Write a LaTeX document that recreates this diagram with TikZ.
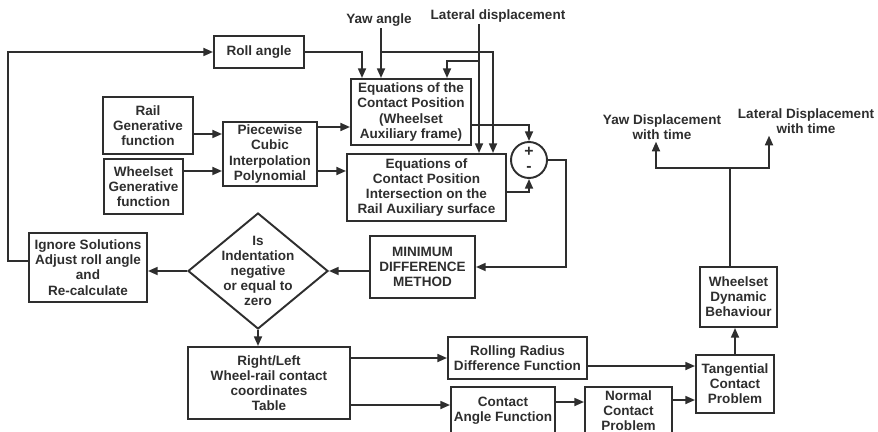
\documentclass[tikz,border=0pt]{standalone}
\usepackage{fontspec}
\setmainfont{Liberation Sans}
\usetikzlibrary{calc, positioning}
\usetikzlibrary{arrows.meta}
\usepgflibrary{shapes.geometric}
\definecolor{ink}{HTML}{2E2E2E}
\def\lw{1.1pt}
\def\fnt{\bfseries\fontsize{7.7}{8.6}\selectfont}
\tikzset{
    block/.style 2 args = {
        draw=ink, rectangle, line width=\lw, align=center, inner sep=1pt,
        text=ink, font=\fnt, minimum width=#1, minimum height=#2
    },
    tag/.style = {
        align=center, inner sep=1pt, text=ink, font=\fnt
    },
    decision/.style = {
        draw=ink, diamond, line width=\lw, inner sep=0pt,
        minimum width=2.8cm, minimum height=2.32cm
    },
    summer/.style = {
        draw=ink, circle, line width=\lw, inner sep=0pt, minimum size=0.72cm
    },
}

\begin{document}
\begin{tikzpicture}[x=0.02cm, y=-0.02cm]
        \useasboundingbox (0,0) rectangle (878,432);
        \clip (0,0) rectangle (878,432);

        % Place the blocks
        \node[block={1.8cm}{0.64cm}] (roll) at (259,52) {Roll angle};
        \node[block={1.8cm}{1.14cm}] (rail) at (148,125.5) {Rail\\Generative\\function};
        \node[block={1.58cm}{1.1cm}] (wgen) at (143.5,186.5) {Wheelset\\Generative\\function};
        \node[block={1.88cm}{1.28cm}] (pcw) at (270,154) {Piecewise\\Cubic\\Interpolation\\Polynomial};
        \node[block={2.4cm}{1.32cm}] (eqw) at (411,112) {Equations of the\\Contact Position\\(Wheelset\\Auxiliary frame)};
        \node[block={3.18cm}{1.34cm}] (eqr) at (426.5,187.5) {Equations of\\Contact Position\\Intersection on the\\Rail Auxiliary surface};
        \node[summer] (sum) at (529,160) {};
        \node[tag, font=\bfseries\fontsize{9}{9}\selectfont] (plus) at (529,152) {+};
        \node[tag, font=\bfseries\fontsize{9}{9}\selectfont] (minus) at (529,169) {-};
        \node[block={2.1cm}{1.24cm}] (mdm) at (422.5,267) {MINIMUM\\DIFFERENCE\\METHOD};
        \node[decision] (dec) at (258,271) {};
        \node[tag] (dectext) at (258,271) {Is\\Indentation\\negative\\or equal to\\zero};
        \node[block={2.36cm}{1.38cm}] (ign) at (88,267.5) {Ignore Solutions\\Adjust roll angle\\and\\Re-calculate};
        \node[block={3.24cm}{1.44cm}] (tbl) at (269,383) {Right/Left\\Wheel-rail contact\\coordinates\\Table};
        \node[block={2.78cm}{0.84cm}] (rrd) at (517.5,358) {Rolling Radius\\Difference Function};
        \node[block={2.08cm}{0.96cm}] (cang) at (503,411) {Contact\\Angle Function};
        \node[block={1.74cm}{0.96cm}] (ncp) at (628.5,411) {Normal\\Contact\\Problem};
        \node[block={1.56cm}{1.16cm}] (tcp) at (735,384) {Tangential\\Contact\\Problem};
        \node[block={1.54cm}{1.2cm}] (wdb) at (738.5,297) {Wheelset\\Dynamic\\Behaviour};

        % Input and output labels
        \node[tag] (yaw) at (379,20) {Yaw angle};
        \node[tag] (lat) at (498,16) {Lateral displacement};
        \node[tag] (ydisp) at (662,127) {Yaw Displacement\\with time};
        \node[tag] (ldisp) at (806,121) {Lateral Displacement\\with time};

        % Junction points
        \coordinate (yawsplit) at (381,52);
        \coordinate (latsplit) at (479,61);
        \coordinate (errcorner) at (566,160);
        \coordinate (fbk) at (8,160);
        \coordinate (outsplit) at (730,168);

        % Draw connections
        \begin{scope}[draw=ink, line width=\lw, >={Triangle[width=4.5pt,length=5.5pt]}]
            \draw[->] (rail.east |- 0,134) -- (pcw.west |- 0,134);
            \draw[->] (wgen.east |- 0,171) -- (pcw.west |- 0,171);
            \draw[->] (pcw.east |- 0,127) -- (eqw.west |- 0,127);
            \draw[->] (pcw.east |- 0,171) -- (eqr.west |- 0,171);
            \draw[->] (roll.east) -| (362,0 |- eqw.north);
            \draw[->] (yaw.south -| yawsplit) -- (yawsplit |- eqw.north);
            \draw[->] (yawsplit) -| (493,0 |- eqr.north);
            \draw[->] (lat.south -| latsplit) -- (latsplit |- eqr.north);
            \draw[->] (latsplit) -| (447,0 |- eqw.north);
            \draw[->] (eqw.east |- 0,125) -| (sum.north);
            \draw[->] (eqr.east |- 0,192) -| (sum.south);
            \draw[->] (sum.east) -- (errcorner) |- (mdm.east);
            \draw[->] (mdm.west |- dec.east) -- (dec.east);
            \draw[->] (dec.west) -- (ign.east |- dec.west);
            \draw[->] (dec.south) -- (dec.south |- tbl.north);
            \draw[->] (ign.west |- 0,261) -| (fbk) |- (roll.west);
            \draw[->] (tbl.east |- rrd.west) -- (rrd.west);
            \draw[->] (tbl.east |- 0,405) -- (cang.west |- 0,405);
            \draw[->] (cang.east |- 0,402) -- (ncp.west |- 0,402);
            \draw[->] (ncp.east |- 0,400) -- (tcp.west |- 0,400);
            \draw[->] (rrd.east |- 0,366) -- (tcp.west |- 0,366);
            \draw[->] (tcp.north) -- (tcp.north |- wdb.south);
            \draw (wdb.north -| outsplit) -- (outsplit);
            \draw[->] (outsplit) -| (656,0 |- ydisp.south);
            \draw[->] (outsplit) -| (769,0 |- ldisp.south);
        \end{scope}
    \end{tikzpicture}
\end{document}
